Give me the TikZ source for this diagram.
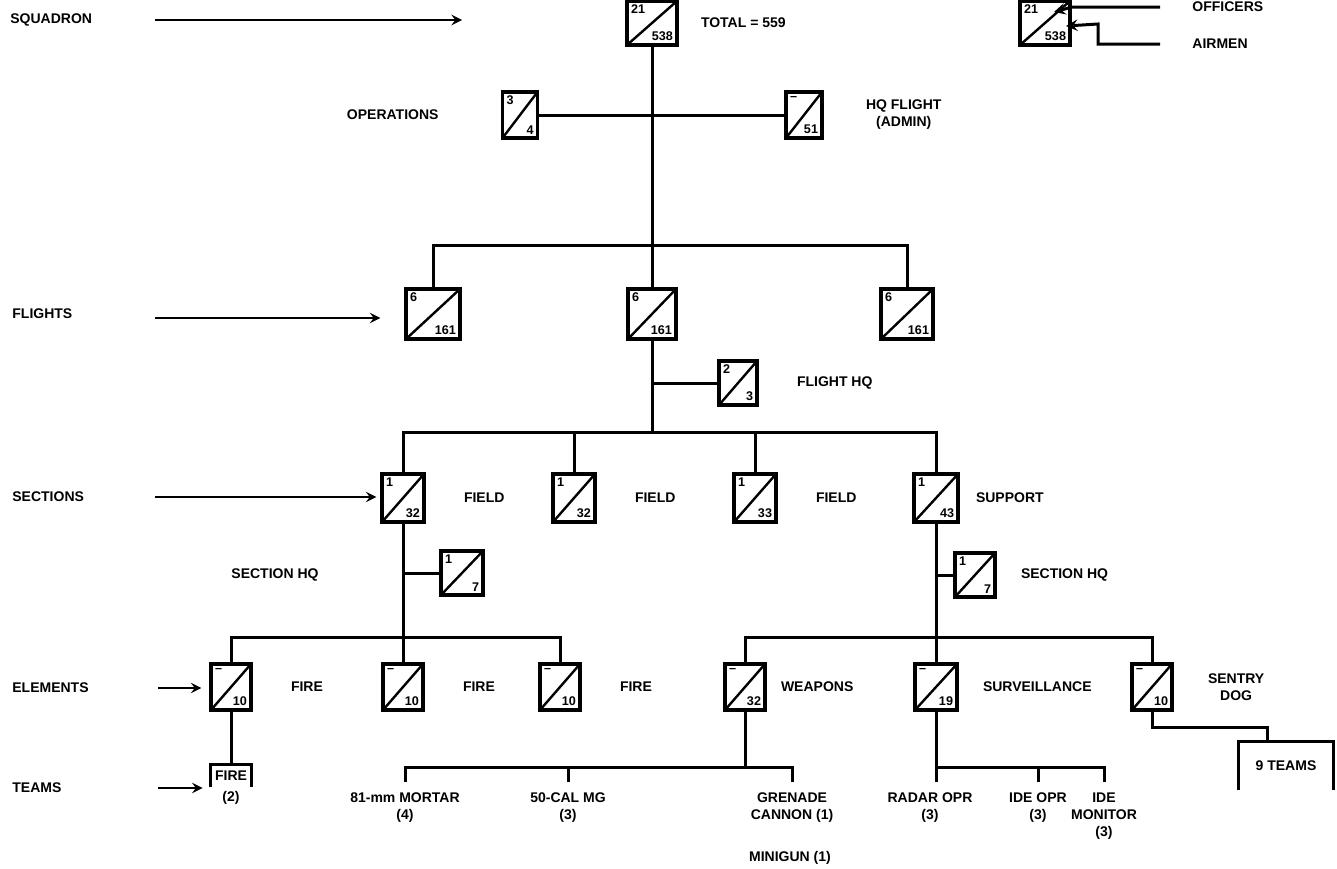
\documentclass[tikz,border=0pt]{standalone}
\usepackage{fontspec}
\setmainfont{Liberation Sans}
\usetikzlibrary{arrows, positioning, calc}

\begin{document}
\begin{tikzpicture}[
    x=0.5pt, y=-0.5pt,
    txt/.style={inner sep=1pt, font=\fontsize{7}{8.5}\selectfont\bfseries, align=center},
    num/.style={inner sep=2.6pt, font=\fontsize{6.3}{7}\selectfont\bfseries},
    box/.style={draw, line width=1.6pt, minimum width=20pt, minimum height=23pt, inner sep=0pt,
        path picture={\draw[line width=1.2pt] (path picture bounding box.south west) -- (path picture bounding box.north east);}},
    unit/.style 2 args={box, label={[num, anchor=north west]north west:#1}, label={[num, anchor=south east]south east:#2}},
    link/.style={line width=1.5pt},
    level/.style={line width=1.3pt, ->, >=stealth}
]
\useasboundingbox (0,0) rectangle (1337,868);
\clip (0,0) rectangle (1337,868);

% Level captions
\node[txt, anchor=west] (lsq) at (8,20) {SQUADRON};
\node[txt, anchor=west] (lfl) at (10,314) {FLIGHTS};
\node[txt, anchor=west] (lsec) at (10,497) {SECTIONS};
\node[txt, anchor=west] (lel) at (10,688) {ELEMENTS};
\node[txt, anchor=west] (ltm) at (10,788) {TEAMS};

% Squadron and HQ
\node[unit={21}{538}, minimum width=25pt, minimum height=22pt] (sq) at (652,23) {};
\node[txt, right=10pt of sq] (total) {TOTAL = 559};
\node[unit={3}{4}, minimum width=17.5pt] (ops) at (520,115) {};
\node[txt, left=30pt of ops] (lops) {OPERATIONS};
\node[unit={--}{51}, minimum width=18pt] (hqf) at (804,115) {};
\node[txt, right=20pt of hqf] (lhqf) {HQ FLIGHT\\(ADMIN)};

% Legend
\node[unit={21}{538}, minimum width=25pt, minimum height=22pt] (lg) at (1045,23) {};
\node[txt, anchor=west] (loff) at (1190,7) {OFFICERS};
\node[txt, anchor=west] (lair) at (1190,44) {AIRMEN};
\coordinate (offbend) at (1072,7);
\coordinate (offtip) at (1054,12);
\coordinate (airbend) at (1098,24);
\coordinate (airtip) at (1066,26);

% Flights
\node[unit={6}{161}, minimum width=27pt, minimum height=25pt] (fl1) at (433,314) {};
\node[unit={6}{161}, minimum width=24pt, minimum height=25pt] (fl2) at (652,314) {};
\node[unit={6}{161}, minimum width=26pt, minimum height=25pt] (fl3) at (907,314) {};
\node[unit={2}{3}, minimum width=19pt, minimum height=22pt] (fhq) at (738,383) {};
\node[txt, right=18pt of fhq] (lfhq) {FLIGHT HQ};

% Sections
\node[unit={1}{32}, minimum width=21pt, minimum height=24pt] (sec1) at (403,498) {};
\node[unit={1}{32}, minimum width=21pt, minimum height=24pt] (sec2) at (574,498) {};
\node[unit={1}{33}, minimum width=21pt, minimum height=24pt] (sec3) at (755,498) {};
\node[unit={1}{43}, minimum width=22pt, minimum height=24pt] (sec4) at (936,498) {};
\node[txt, right=18pt of sec1] (lsec1) {FIELD};
\node[txt, right=18pt of sec2] (lsec2) {FIELD};
\node[txt, right=18pt of sec3] (lsec3) {FIELD};
\node[txt, right=7pt of sec4] (lsec4) {SUPPORT};
\node[unit={1}{7}, minimum width=21pt, minimum height=22pt] (shq1) at (462,573) {};
\node[txt] (lshq1) at (275,575) {SECTION HQ};
\node[unit={1}{7}, minimum width=20pt, minimum height=22pt] (shq2) at (975,575) {};
\node[txt, right=11pt of shq2] (lshq2) {SECTION HQ};

% Elements
\node[unit={--}{10}] (el1) at (231,687) {};
\node[unit={--}{10}] (el2) at (403,687) {};
\node[unit={--}{10}] (el3) at (560,687) {};
\node[unit={--}{32}] (el4) at (745,687) {};
\node[unit={--}{19}, minimum width=21pt] (el5) at (936,687) {};
\node[unit={--}{10}] (el6) at (1152,687) {};
\node[txt, right=18pt of el1] (lel1) {FIRE};
\node[txt, right=18pt of el2] (lel2) {FIRE};
\node[txt, right=18pt of el3] (lel3) {FIRE};
\node[txt, right=6pt of el4] (lel4) {WEAPONS};
\node[txt, right=11pt of el5] (lel5) {SURVEILLANCE};
\node[txt, right=16pt of el6] (lel6) {SENTRY\\DOG};

% Teams
\node[txt, minimum width=20pt, minimum height=11pt] (tfire) at (231,776) {FIRE};
\node[txt, below=1pt of tfire] (tfiren) {(2)};
\node[txt, anchor=north] (tmor) at (405,790) {81-mm MORTAR\\(4)};
\node[txt, anchor=north] (tcal) at (568,790) {50-CAL MG\\(3)};
\node[txt, anchor=north] (tgren) at (792,790) {GRENADE\\CANNON (1)};
\node[txt] (tmini) at (790,858) {MINIGUN (1)};
\node[txt, anchor=north] (trad) at (930,790) {RADAR OPR\\(3)};
\node[txt, anchor=north] (tide) at (1038,790) {IDE OPR\\(3)};
\node[txt, anchor=north] (tmon) at (1104,790) {IDE\\MONITOR\\(3)};
\node[txt, minimum width=47pt, minimum height=24pt] (tnine) at (1286,766) {9 TEAMS};

% Level arrows
\coordinate (sqtail) at (155,20);
\coordinate (sqhead) at (462,20);
\coordinate (fltail) at (155,318);
\coordinate (sectail) at (155,497);
\coordinate (eltail) at (158,688);
\coordinate (tmtail) at (158,788);
\draw[level] (sqtail) -- (sqhead);
\draw[level, shorten >=12pt] (fltail) -- (fltail -| fl1.west);
\draw[level, shorten >=2pt] (sectail) -- (sectail -| sec1.west);
\draw[level, shorten >=4pt] (eltail) -- (eltail -| el1.west);
\draw[level, shorten >=4pt] (tmtail) -- (tmtail -| tfire.west);

% Legend leaders
\draw[link, ->, >=stealth, shorten <=15pt] (loff) -- (offbend) -- (offtip);
\draw[link, ->, >=stealth, shorten <=15pt] (lair) -| (airbend) -- (airtip);

% Chain of command
\coordinate (flbar) at (652,245);
\coordinate (secbar) at (652,432);
\coordinate (elbarl) at (403,637);
\coordinate (elbarr) at (936,637);
\draw[link] (sq) -- (fl2);
\draw[link] (ops) -- (hqf);
\draw[link] (fl1) |- (flbar) -| (fl3);
\draw[link] (fl2) -- (secbar);
\draw[link] (fhq) -- (fhq -| fl2);
\draw[link] (sec1) |- (secbar) -| (sec4);
\draw[link] (sec2) -- (sec2 |- secbar);
\draw[link] (sec3) -- (sec3 |- secbar);
\draw[link] (sec1) -- (elbarl);
\draw[link] (shq1) -- (shq1 -| sec1);
\draw[link] (el1) |- (elbarl) -| (el3);
\draw[link] (el2) -- (elbarl);
\draw[link] (sec4) -- (elbarr);
\draw[link] (shq2) -- (shq2 -| sec4);
\draw[link] (el4) |- (elbarr) -| (el6);
\draw[link] (el5) -- (elbarr);

% Teams links
\coordinate (wbar) at (745,767);
\coordinate (sbar) at (936,767);
\coordinate (dogbend) at (1267,727);
\draw[link] (el1) -- (tfire);
\draw[link] (tfire.south west) |- (tfire.north) -| (tfire.south east);
\draw[link] (el4) -- (wbar);
\draw[link, shorten <=4pt, shorten >=4pt] (tmor) |- (wbar) -| (tgren);
\draw[link, shorten >=4pt] (tcal |- wbar) -- (tcal);
\draw[link, shorten >=4pt] (el5) -- (el5 |- trad.north);
\draw[link, shorten >=4pt] (sbar) -| (tmon);
\draw[link, shorten >=4pt] (tide |- sbar) -- (tide);
\draw[link] (el6) |- (dogbend) -- (dogbend |- tnine.north);
\draw[link] (tnine.south west) |- (tnine.north) -| (tnine.south east);

\end{tikzpicture}
\end{document}
